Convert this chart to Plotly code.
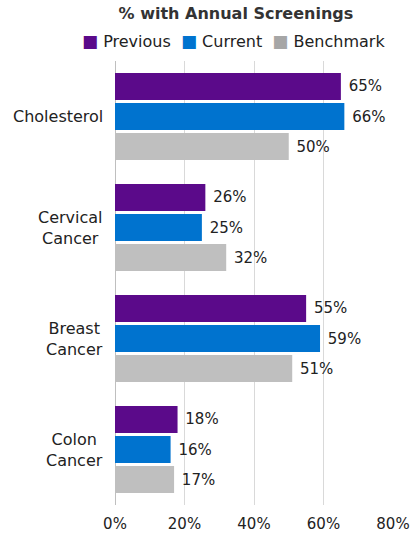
import plotly.graph_objects as go

categories = ["Cholesterol", "Cervical Cancer", "Breast Cancer", "Colon Cancer"]
category_labels = ["Cholesterol", "Cervical<br>Cancer", "Breast<br>Cancer", "Colon<br>Cancer"]
previous = [65, 26, 55, 18]
current = [66, 25, 59, 16]
benchmark = [50, 32, 51, 17]
series_names = ["Previous", "Current", "Benchmark"]
series_colors = ["#5B0A8A", "#0073CF", "#BFBFBF"]
legend_colors = ["#5B0A8A", "#0073CF", "#A6A6A6"]
x_ticks = [0, 20, 40, 60, 80]
x_tick_labels = ["0%", "20%", "40%", "60%", "80%"]

FONT = "DejaVu Sans"

fig = go.Figure()
for name, vals, col in zip(series_names, [previous, current, benchmark], series_colors):
    fig.add_trace(go.Bar(
        y=categories, x=vals, name=name, orientation="h",
        marker=dict(color=col, line=dict(width=0)),
        text=[f"{v}%" for v in vals], texttemplate=" %{text}",
        textposition="outside", cliponaxis=False,
        textfont=dict(family=FONT, size=15, color="#222222"),
        showlegend=False, hoverinfo="skip",
    ))

for cat, lab in zip(categories, category_labels):
    fig.add_annotation(x=0, xref="paper", y=cat, yref="y", text=lab,
                       showarrow=False, xanchor="right", align="center",
                       xshift=-10, font=dict(family=FONT, size=16, color="#222222"))

legend_text = "\u00a0\u00a0".join(
    f'<span style="color:{c}; font-size:17px">\u25A0</span>\u00a0{n}'
    for n, c in zip(series_names, legend_colors))
fig.add_annotation(x=0.428, xref="paper", y=1.045, yref="paper", text=legend_text,
                   showarrow=False, xanchor="center", yanchor="middle",
                   font=dict(family=FONT, size=16, color="#222222"))

fig.update_layout(
    width=412, height=538,
    margin=dict(l=115, r=19, t=61, b=33),
    paper_bgcolor="white", plot_bgcolor="white",
    barmode="group", bargap=0.187, bargroupgap=0.1,
    title=dict(text="<b>% with Annual Screenings</b>", x=0.435, xref="paper", xanchor="center",
               y=0.976, yanchor="middle",
               font=dict(family=FONT, size=16, color="#333333")),
    showlegend=False,
    font=dict(family=FONT, size=15, color="#222222"),
)
fig.update_xaxes(range=[0, 80], tickvals=x_ticks, ticktext=x_tick_labels,
                 automargin=False,
                 showgrid=True, gridcolor="#D9D9D9", gridwidth=1,
                 zeroline=True, zerolinecolor="#BFBFBF", zerolinewidth=1,
                 showline=False, ticks="", ticklabelstandoff=8,
                 tickfont=dict(family=FONT, size=15, color="#222222"),
                 fixedrange=True)
fig.update_yaxes(autorange="reversed", showticklabels=False, showgrid=False,
                 automargin=False,
                 showline=False, ticks="", fixedrange=True)

fig.write_html("out.html", config={"displayModeBar": False},
               post_script="document.body.style.margin='0';")
